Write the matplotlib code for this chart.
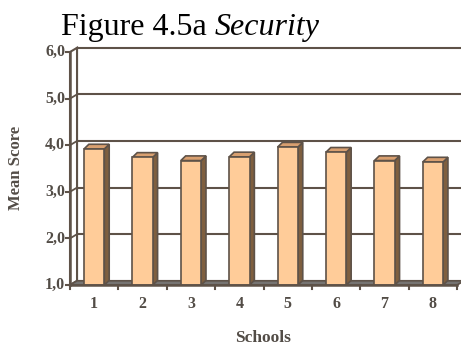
import numpy as np
import matplotlib.pyplot as plt
from matplotlib.patches import Polygon, Rectangle

# Mean security score per school
schools = ["1", "2", "3", "4", "5", "6", "7", "8"]
scores = [3.92, 3.74, 3.67, 3.75, 3.96, 3.85, 3.67, 3.64]
yticks = [1.0, 2.0, 3.0, 4.0, 5.0, 6.0]
ytick_labels = ["1,0", "2,0", "3,0", "4,0", "5,0", "6,0"]

edge = "#5e5248"
front = "#ffcc99"
side = "#7f5f3f"
top = "#d9a070"
floor = "#767472"
text_col = "#524c46"
serif = ["Liberation Serif", "DejaVu Serif"]

fig = plt.figure(figsize=(4.61, 3.49), dpi=100)
W, H = 461, 349
ax = fig.add_axes([70 / W, (H - 285) / H, 391 / W, 240 / H])
ax.set_xlim(0.5, 8.58)
ax.set_ylim(1.0, 6.15)
ax.axis("off")

# depth offsets of the walls and of the columns (data units)
wdx, wdy = 0.145, 0.09
bdx, bdy = 0.10, 0.10
n = len(schools)
x0, x1 = 0.5, n + 0.5

# back wall with gridlines
ax.add_patch(Rectangle((x0 + wdx, 1 + wdy), x1 - x0, 5, facecolor="white",
                       edgecolor=edge, lw=1.5, clip_on=False, zorder=1))
for t in yticks[1:-1]:
    ax.plot([x0 + wdx, x1 + wdx], [t + wdy, t + wdy], color=edge, lw=1.5,
            clip_on=False, zorder=1)

# left wall, gridlines run across it diagonally
ax.add_patch(Polygon([(x0, 1), (x0 + wdx, 1 + wdy), (x0 + wdx, 6 + wdy), (x0, 6)],
                     closed=True, facecolor="white", edgecolor=edge, lw=1.5,
                     clip_on=False, zorder=2))
for t in yticks[1:-1]:
    ax.plot([x0, x0 + wdx], [t, t + wdy], color=edge, lw=1.3, clip_on=False,
            zorder=2)

# floor
ax.add_patch(Polygon([(x0, 1), (x1, 1), (x1 + wdx, 1 + wdy), (x0 + wdx, 1 + wdy)],
                     closed=True, facecolor=floor, edgecolor=edge, lw=1.2,
                     clip_on=False, zorder=2))

# 3d columns
w = 0.42
for i, v in enumerate(scores, start=1):
    l, r = i - w / 2, i + w / 2
    ax.add_patch(Polygon([(r, 1), (r + bdx, 1 + bdy), (r + bdx, v + bdy), (r, v)],
                         closed=True, facecolor=side, edgecolor=edge, lw=1.2,
                         clip_on=False, zorder=3))
    ax.add_patch(Polygon([(l, v), (r, v), (r + bdx, v + bdy), (l + bdx, v + bdy)],
                         closed=True, facecolor=top, edgecolor=edge, lw=1.2,
                         clip_on=False, zorder=3))
    ax.add_patch(Rectangle((l, 1), w, v - 1, facecolor=front, edgecolor=edge,
                           lw=1.2, clip_on=False, zorder=4))

# axes lines, tick marks and labels
ax.plot([x0, x0], [1, 6], color=edge, lw=1.8, clip_on=False, zorder=5)
ax.plot([x0, x1], [1, 1], color=edge, lw=1.8, clip_on=False, zorder=5)
tx = 4 / 48.4
ty = 4 / 46.6
for t, lab in zip(yticks, ytick_labels):
    ax.plot([x0 - tx, x0], [t, t], color=edge, lw=1.5, clip_on=False, zorder=5)
    ax.text(x0 - tx - 0.02, t, lab, ha="right", va="center", fontsize=11.5,
            fontweight="bold", family=serif, color=text_col)
for k in range(n + 1):
    ax.plot([x0 + k, x0 + k], [1, 1 - ty], color=edge, lw=1.5, clip_on=False,
            zorder=5)
for i, lab in enumerate(schools, start=1):
    ax.text(i, 1 - 19 / 46.6, lab, ha="center", va="center", fontsize=11.5,
            fontweight="bold", family=serif, color=text_col)

fig.text(263 / W, (H - 338) / H, "Schools", ha="center", va="center",
         fontsize=12.5, fontweight="bold", family=serif, color=text_col)
fig.text(16 / W, (H - 168) / H, "Mean Score", ha="center", va="center",
         rotation=90, fontsize=12, fontweight="bold", family=serif, color=text_col)

# title: plain part followed by italic part
t1 = fig.text(61 / W, (H - 35) / H, "Figure 4.5a ", ha="left", va="baseline",
              fontsize=23, family=serif, color="black")
fig.canvas.draw()
bb = t1.get_window_extent()
fig.text(bb.x1 / W, (H - 35) / H, "Security", ha="left", va="baseline",
         fontsize=23, family=serif, style="italic", color="black")

plt.savefig("out.png", dpi=100)
